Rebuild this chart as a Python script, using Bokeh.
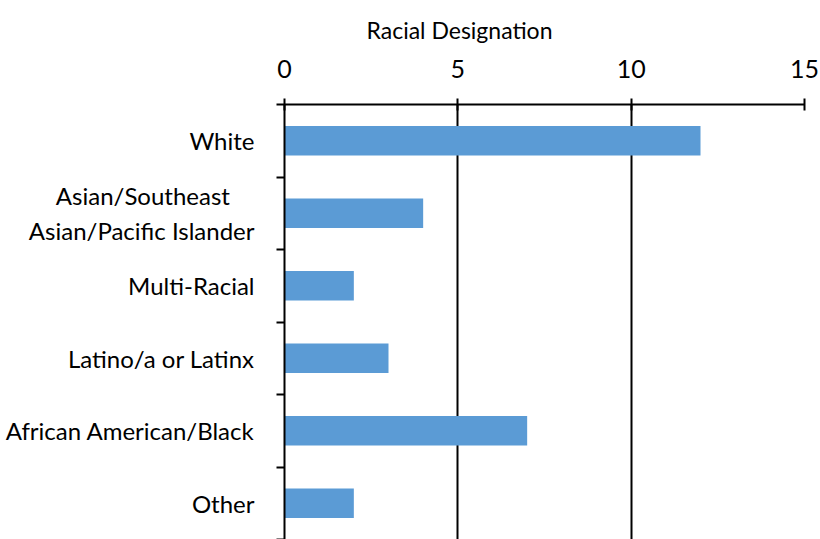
from bokeh.plotting import figure
from bokeh.models import Range1d, FixedTicker
from bokeh.embed import file_html
from bokeh.resources import INLINE

NB = "\u00a0"
categories = ["White", "Asian/Southeast" + NB * 4 + "\nAsian/Pacific Islander", "Multi-Racial",
              "Latino/a or Latinx", "African American/Black", "Other"]
counts = [12, 4, 2, 3, 7, 2]
x_ticks = [0, 5, 10, 15]
title_text = "Racial Designation"

n = len(categories)
ypos = [n - i - 0.5 for i in range(n)]
bounds = list(range(0, n + 1))

p = figure(width=820, height=539, output_backend="svg", toolbar_location=None,
           x_range=Range1d(0, 15), y_range=Range1d(0, n),
           x_axis_location="above",
           min_border_left=284, min_border_right=16, min_border_top=103, min_border_bottom=0)
p.outline_line_color = None
p.background_fill_color = "white"

p.hbar(y=ypos, right=counts, left=0, height=0.41, color="#5B9BD5", line_color=None)

font = "Lato"
p.title.text = title_text
p.title.align = "left"
p.title.offset = 82
p.title.text_font = font
p.title.text_font_size = "23px"
p.title.text_font_style = "normal"
p.title.text_color = "#000000"
p.title.standoff = 26

xa = p.xaxis[0]
xa.ticker = FixedTicker(ticks=x_ticks)
xa.major_label_text_font = font
xa.major_label_text_font_size = "25px"
xa.major_label_text_color = "#000000"
xa.major_label_standoff = 21
xa.axis_line_width = 2
xa.axis_line_color = "black"
xa.major_tick_in = 6
xa.major_tick_out = 6
xa.major_tick_line_width = 2
xa.major_tick_line_color = "black"
xa.minor_tick_line_color = None

ya = p.yaxis[0]
ya.ticker = FixedTicker(ticks=ypos, minor_ticks=bounds)
ya.major_label_overrides = {y: c for y, c in zip(ypos, categories)}
ya.major_label_text_font = font
ya.major_label_text_font_size = "24px"
ya.major_label_text_color = "#000000"
ya.major_label_standoff = 22
ya.major_tick_in = 0
ya.major_tick_out = 0
ya.minor_tick_in = 0
ya.minor_tick_out = 8
ya.minor_tick_line_width = 2
ya.minor_tick_line_color = "black"
ya.axis_line_width = 2
ya.axis_line_color = "black"

p.xgrid.ticker = FixedTicker(ticks=[5, 10, 15])
p.xgrid.grid_line_color = "black"
p.xgrid.grid_line_width = 2
p.ygrid.grid_line_color = None

open("out.html", "w").write(file_html(p, INLINE))
